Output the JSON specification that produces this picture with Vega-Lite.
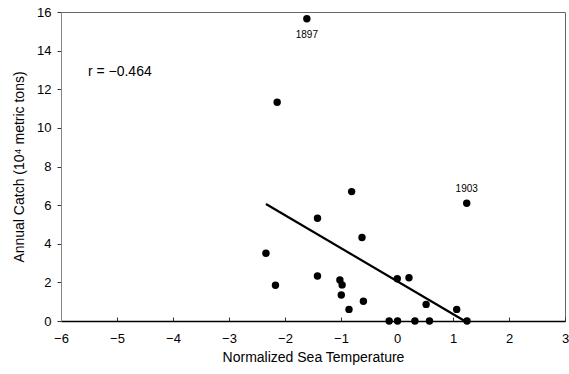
{
  "$schema": "https://vega.github.io/schema/vega-lite/v6.json",
  "width": 504,
  "height": 309,
  "autosize": "none",
  "padding": {"left": 61, "top": 12, "right": 4, "bottom": 53},
  "config": {
    "view": {"stroke": "#666", "strokeWidth": 1},
    "font": "Liberation Sans",
    "axis": {"grid": false, "labelOverlap": false, "labelFlush": false, "labelFont": "Liberation Sans", "titleFont": "Liberation Sans", "labelFontSize": 13, "titleFontSize": 14, "titleFontWeight": "normal", "labelColor": "#000", "titleColor": "#000", "tickColor": "#333", "domainColor": "#888"}
  },
  "datasets": {
    "pts": [
      {"temp": -1.61, "catch": 15.65, "year": "1897"},
      {"temp": -2.14, "catch": 11.33, "year": ""},
      {"temp": -0.81, "catch": 6.70, "year": ""},
      {"temp": 1.245, "catch": 6.10, "year": "1903"},
      {"temp": -1.42, "catch": 5.32, "year": ""},
      {"temp": -0.625, "catch": 4.32, "year": ""},
      {"temp": -2.34, "catch": 3.51, "year": ""},
      {"temp": -1.42, "catch": 2.33, "year": ""},
      {"temp": 0.005, "catch": 2.19, "year": ""},
      {"temp": 0.214, "catch": 2.24, "year": ""},
      {"temp": -1.02, "catch": 2.12, "year": ""},
      {"temp": -0.98, "catch": 1.87, "year": ""},
      {"temp": -2.17, "catch": 1.85, "year": ""},
      {"temp": -0.995, "catch": 1.35, "year": ""},
      {"temp": -0.60, "catch": 1.02, "year": ""},
      {"temp": 0.52, "catch": 0.86, "year": ""},
      {"temp": -0.857, "catch": 0.60, "year": ""},
      {"temp": 1.066, "catch": 0.60, "year": ""},
      {"temp": -0.14, "catch": 0.0, "year": ""},
      {"temp": 0.01, "catch": 0.0, "year": ""},
      {"temp": 0.32, "catch": 0.0, "year": ""},
      {"temp": 0.58, "catch": 0.0, "year": ""},
      {"temp": 1.25, "catch": 0.0, "year": ""}
    ],
    "fit": [
      {"temp": -2.34, "catch": 6.06},
      {"temp": 1.21, "catch": 0.0}
    ],
    "note": [
      {"temp": -5.52, "catch": 12.9, "label": "r = −0.464"}
    ]
  },
  "encoding": {
    "x": {"field": "temp", "type": "quantitative", "scale": {"domain": [-6, 3], "nice": false},
      "axis": {"title": "Normalized Sea Temperature", "values": [-6, -5, -4, -3, -2, -1, 0, 1, 2, 3], "tickSize": -4, "labelPadding": 15, "titlePadding": 5, "domainColor": "#000", "domainWidth": 1.5, "format": "d", "labelOverlap": false}},
    "y": {"field": "catch", "type": "quantitative", "scale": {"domain": [0, 16], "nice": false},
      "axis": {"title": "Annual Catch (10⁴ metric tons)", "values": [0, 2, 4, 6, 8, 10, 12, 14, 16], "tickSize": 4, "labelPadding": 6, "titlePadding": 10, "labelOverlap": false, "format": "d"}}
  },
  "layer": [
    {
      "data": {"name": "fit"},
      "mark": {"type": "line", "color": "#000", "strokeWidth": 2.2}
    },
    {
      "data": {"name": "pts"},
      "mark": {"type": "circle", "color": "#000", "opacity": 1, "size": 55}
    },
    {
      "data": {"name": "pts"},
      "transform": [{"filter": "datum.year == '1897'"}],
      "mark": {"type": "text", "fontSize": 10, "dy": 16, "color": "#000"},
      "encoding": {"text": {"field": "year"}}
    },
    {
      "data": {"name": "pts"},
      "transform": [{"filter": "datum.year == '1903'"}],
      "mark": {"type": "text", "fontSize": 10, "dy": -14, "color": "#000"},
      "encoding": {"text": {"field": "year"}}
    },
    {
      "data": {"name": "note"},
      "mark": {"type": "text", "fontSize": 14, "align": "left", "color": "#000"},
      "encoding": {"text": {"field": "label"}}
    }
  ]
}
